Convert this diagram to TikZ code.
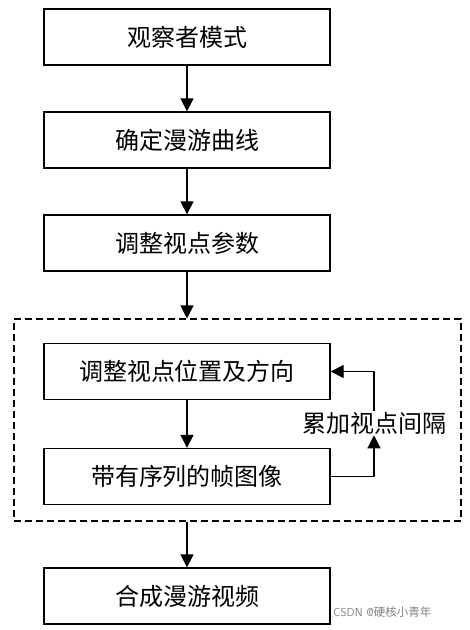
\documentclass[tikz,border=0pt]{standalone}
\usepackage{fontspec}
\newfontfamily\cjk{Noto Sans CJK SC}
\usetikzlibrary{arrows.meta}
\begin{document}
\begin{tikzpicture}[x=1pt,y=-1pt,
  box/.style={draw,line width=1.3pt,minimum width=286pt,minimum height=56pt,inner sep=0pt,font=\cjk\fontsize{24}{27}\selectfont},
  arr/.style={line width=1.2pt,-{Triangle[length=13pt,width=13pt]}}]
\useasboundingbox (0,0) rectangle (470,630);
\node[box] (b1) at (187,37) {观察者模式};
\node[box] (b2) at (187,140) {确定漫游曲线};
\node[box] (b3) at (187,243) {调整视点参数};
\node[draw,dashed,dash pattern=on 7pt off 4pt,line width=1.1pt,minimum width=447pt,minimum height=202pt,inner sep=0pt] (grp) at (237.5,420) {};
\node[box] (b4) at (187,371.5) {调整视点位置及方向};
\node[box] (b5) at (187,476.5) {带有序列的帧图像};
\node[box] (b6) at (187,596) {合成漫游视频};
\node[font=\cjk\fontsize{24}{27}\selectfont,inner sep=1pt] (lab) at (374,423) {累加视点间隔};
\node[font=\fontsize{11.5}{13}\selectfont\sffamily,text=gray,anchor=west,inner sep=0pt] (wm) at (333,612) {CSDN @{\cjk 硬核小青年}};
\draw[arr] (b1) -- (b2);
\draw[arr] (b2) -- (b3);
\draw[arr] (b3) -- (grp.north -| b3);
\draw[arr] (b4) -- (b5);
\draw[arr] (grp.south -| b6) -- (b6);
\draw[arr] (b5.east) -| (lab.south);
\draw[arr] (lab.north) |- (b4.east);
\end{tikzpicture}
\end{document}
